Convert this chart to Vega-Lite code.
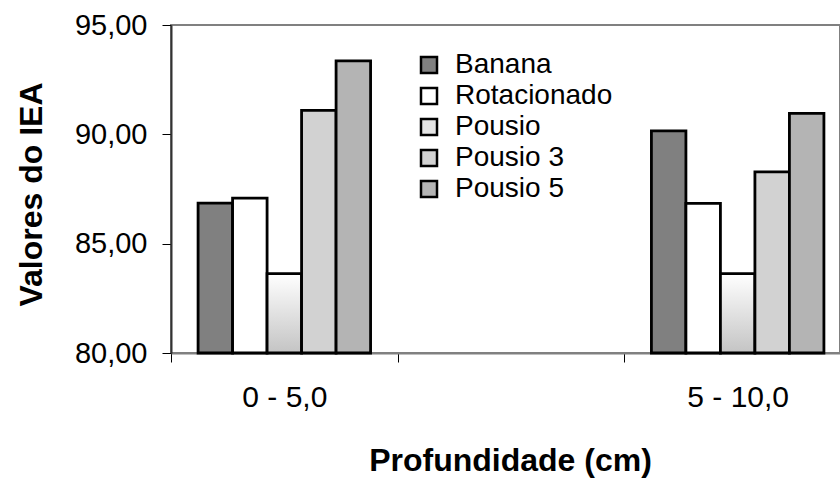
{
  "$schema": "https://vega.github.io/schema/vega-lite/v6.json",
  "width": 669,
  "height": 328,
  "autosize": {"type": "none"},
  "padding": {"left": 171, "top": 25, "right": 0, "bottom": 126},
  "background": "white",
  "config": {
    "view": {"stroke": "#808080", "strokeWidth": 2},
    "font": "Liberation Sans"
  },
  "data": {
    "values": [
      {"prof": "0 - 5,0", "trat": "Banana", "iea": 86.85},
      {"prof": "0 - 5,0", "trat": "Rotacionado", "iea": 87.08},
      {"prof": "0 - 5,0", "trat": "Pousio", "iea": 83.63},
      {"prof": "0 - 5,0", "trat": "Pousio 3", "iea": 91.1},
      {"prof": "0 - 5,0", "trat": "Pousio 5", "iea": 93.36},
      {"prof": "5 - 10,0", "trat": "Banana", "iea": 90.16},
      {"prof": "5 - 10,0", "trat": "Rotacionado", "iea": 86.84},
      {"prof": "5 - 10,0", "trat": "Pousio", "iea": 83.63},
      {"prof": "5 - 10,0", "trat": "Pousio 3", "iea": 88.28},
      {"prof": "5 - 10,0", "trat": "Pousio 5", "iea": 90.96}
    ]
  },
  "mark": {"type": "bar", "stroke": "black", "strokeWidth": 2.8, "strokeJoin": "miter"},
  "encoding": {
    "x": {
      "field": "prof",
      "type": "nominal",
      "scale": {"domain": ["0 - 5,0", "_", "5 - 10,0"], "range": [0, 680], "paddingInner": 0, "paddingOuter": 0},
      "axis": {
        "title": "Profundidade (cm)",
        "titleFont": "Liberation Sans",
        "titleFontSize": 32,
        "titleFontWeight": "bold",
        "titleColor": "black",
        "titleX": 339,
        "titleY": 117,
        "titleAlign": "center",
        "titleBaseline": "alphabetic",
        "labelExpr": "datum.value == '_' ? '' : datum.value",
        "labelAngle": 0,
        "labelFontSize": 30,
        "labelColor": "black",
        "labelPadding": 20,
        "tickBand": "extent",
        "tickSize": 9,
        "tickColor": "#000000",
        "tickWidth": 1,
        "domainColor": "#808080",
        "domainWidth": 2,
        "grid": false
      }
    },
    "xOffset": {
      "field": "trat",
      "type": "nominal",
      "sort": ["Banana", "Rotacionado", "Pousio", "Pousio 3", "Pousio 5"],
      "scale": {"paddingOuter": 0.785, "paddingInner": 0}
    },
    "y": {
      "field": "iea",
      "type": "quantitative",
      "scale": {"domain": [80, 95], "zero": false, "nice": false},
      "axis": {
        "title": "Valores do IEA",
        "titleFont": "Liberation Sans",
        "titleFontSize": 32,
        "titleFontWeight": "bold",
        "titleColor": "black",
        "titleAngle": -90,
        "titleX": -129.5,
        "titleY": 169,
        "titleAlign": "center",
        "titleBaseline": "alphabetic",
        "values": [80, 85, 90, 95],
        "labelExpr": "replace(format(datum.value, '.2f'), '.', ',')",
        "labelFontSize": 29,
        "labelColor": "black",
        "labelPadding": 15,
        "tickSize": 9,
        "tickColor": "#000000",
        "domainColor": "#333333",
        "domainWidth": 2,
        "grid": false
      }
    },
    "y2": {"datum": 80},
    "fill": {
      "condition": {
        "test": "datum.trat == 'Pousio'",
        "value": {"gradient": "linear", "x1": 0, "y1": 0, "x2": 0, "y2": 1, "stops": [{"offset": 0, "color": "#ffffff"}, {"offset": 1, "color": "#c4c4c4"}]}
      },
      "field": "trat",
      "type": "nominal",
      "scale": {
        "domain": ["Banana", "Rotacionado", "Pousio", "Pousio 3", "Pousio 5"],
        "range": ["#808080", "#ffffff", "#e4e4e4", "#d2d2d2", "#b4b4b4"]
      },
      "legend": {
        "title": null,
        "orient": "none",
        "legendX": 244,
        "legendY": 26,
        "padding": 0,
        "symbolType": "square",
        "symbolSize": 256,
        "symbolStrokeColor": "black",
        "symbolStrokeWidth": 2.5,
        "labelFontSize": 28,
        "labelFont": "Liberation Sans",
        "labelColor": "black",
        "labelLimit": 300,
        "labelOffset": 12,
        "rowPadding": 3
      }
    }
  }
}
